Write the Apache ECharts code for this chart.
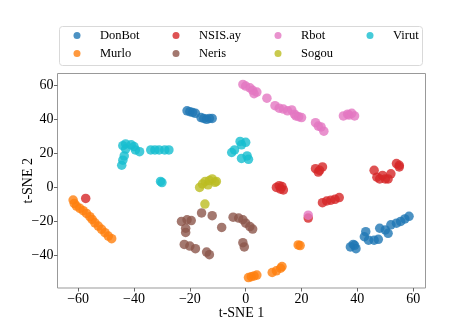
<!DOCTYPE html>
<html>
<head>
<meta charset="utf-8">
<script src="https://cdn.jsdelivr.net/npm/echarts@6/dist/echarts.min.js"></script>
<style>
  html, body { margin: 0; padding: 0; background: #fff; }
  #tsne-chart { width: 449px; height: 336px; }
</style>
</head>
<body>
<div id="tsne-chart"></div>
<script>
// class labels, in legend order (column-major, 4 columns x 2 rows)
const classNames = ['DonBot', 'Murlo', 'NSIS.ay', 'Neris', 'Rbot', 'Sogou', 'Virut']
const classColors = ['#1f77b4', '#ff7f0e', '#d62728', '#8c564b', '#e377c2', '#bcbd22', '#17becf']

// embedded points [t-SNE 1, t-SNE 2]
const donBot = [
  [-21, 45], [-20, 44.5], [-19, 44], [-18, 43.5],
  [-16, 41], [-15, 40.5], [-14, 40], [-13, 40.5], [-12, 40.5],
  [37.5, -35], [39, -34], [39.5, -36], [38.5, -33.5],
  [43, -26], [42.5, -29], [44, -31], [46, -31], [47.5, -30.5],
  [48, -24], [50, -25], [51, -27], [52, -22], [54, -21],
  [55.5, -20], [57, -18.5], [58.5, -17]
]
const murlo = [
  [-61.8, -7.4], [-61.4, -9.4], [-60.6, -11], [-59.4, -12.3], [-58.2, -13.7],
  [-57, -15.3], [-55.8, -17.2], [-55, -18.8], [-54, -20.8], [-52.8, -22.7],
  [-51.6, -24.6], [-50.4, -26.6], [-49.2, -28.6], [-48, -30.1],
  [18.8, -33.8], [19.5, -34.2],
  [1, -53], [2, -52.5], [3, -52], [4, -51.5],
  [9.5, -50], [11, -49], [12.5, -47.5], [13, -46.5]
]
const nsisAy = [
  [-57.3, -6.5],
  [11, 0], [12, 1], [13, 0.5], [12.5, -1], [13.5, -1.5],
  [27.5, -9], [29, -8], [30.5, -7.5], [32, -7], [33.5, -6],
  [25, 11], [26.5, 10], [27.5, 12], [26, 9],
  [46, 10], [47, 6], [48, 5], [49, 7], [50, 5], [51, 5], [52, 8],
  [54, 14], [55, 13], [55, 12],
  [22.4, -18]
]
const neris = [
  [-23, -20], [-21, -19], [-19.5, -19.5],
  [-21.5, -24], [-21.5, -26.5],
  [-15.8, -15], [-12, -16.6],
  [-4.5, -17.5], [-2.5, -18], [-1, -19], [0, -21], [1.5, -23], [2.5, -24.5],
  [-8.6, -23.5],
  [-22, -33.5], [-20, -34.5], [-18, -36],
  [-14, -38], [-13, -39.5],
  [-1, -32.5], [-0.5, -35]
]
const rbot = [
  [-1, 60.5], [0, 59.5], [1.5, 58.5], [2.5, 57], [4, 56], [3, 55],
  [7.6, 52.4],
  [10.5, 48], [12, 46.5], [13.5, 46], [15, 45], [16.5, 45.5], [17.5, 43],
  [18, 42], [19, 41.5], [20, 41],
  [25, 38], [26, 36], [27, 35.5], [28, 33],
  [35, 42], [36.5, 43], [37, 42.5], [38, 43.5], [39, 42],
  [22.4, -16.3]
]
const sogou = [
  [-16.5, 0], [-15.5, 2], [-14.5, 3.5], [-13, 4], [-12, 5],
  [-11, 3], [-13.5, 1.5], [-10.5, 3.5],
  [-14.6, -9.8]
]
const virut = [
  [-44, 24.5], [-43, 25.5], [-41, 25], [-40, 24], [-39.5, 22], [-38, 21], [-43, 22.5],
  [-43.5, 18.5], [-44, 16], [-44.4, 13],
  [-34, 22], [-32.5, 22], [-31, 22], [-29, 22], [-27.5, 22],
  [-30.5, 3.5], [-30, 2.8],
  [-2, 27], [0, 26.5], [-1.5, 25],
  [-4, 22], [-5, 20.5],
  [-1.5, 17], [0.5, 18.5], [1, 16.5]
]
const classPoints = [donBot, murlo, nsisAy, neris, rbot, sogou, virut]

const xTicks = [-60, -40, -20, 0, 20, 40, 60]
const yTicks = [-40, -20, 0, 20, 40, 60]

const FONT = '"Liberation Serif", "DejaVu Serif", serif'
const minusSign = (v) => String(v).replace('-', '\u2212')

// one legend per entry so the column-major layout can be placed exactly
const legendCols = [73.5, 172.5, 274.5, 366.5]
const legendRows = [29, 47]
let legends = classNames.map((name, i) => ({
  data: [name],
  left: legendCols[Math.floor(i / 2)],
  top: legendRows[i % 2],
  padding: 0,
  icon: 'circle',
  itemWidth: 7,
  itemHeight: 7,
  textStyle: { fontFamily: FONT, fontSize: 12.5, color: '#000', padding: [0, 0, 0, 14.5] },
}))

let tsneChart = echarts.init(document.getElementById('tsne-chart'))
let option = {
  animation: false,
  color: classColors,
  legend: legends,
  graphic: [
    {
      type: 'rect',
      shape: { x: 59.5, y: 26.5, width: 363, height: 39, r: 3 },
      style: { fill: 'none', stroke: '#d9d9d9', lineWidth: 1 },
      z: -1,
    },
  ],
  grid: {
    left: 57.5,
    right: 23.5,
    top: 73.5,
    bottom: 48,
    show: true,
    borderColor: '#999',
    borderWidth: 1,
  },
  xAxis: {
    type: 'value',
    min: -67.4,
    max: 64.4,
    name: 't-SNE 1',
    nameLocation: 'middle',
    nameGap: 18,
    nameMoveOverlap: false,
    nameTextStyle: { fontFamily: FONT, fontSize: 14, color: '#000', verticalAlign: 'top' },
    axisLine: { show: false, onZero: false },
    splitLine: { show: false },
    axisTick: {
      show: true,
      length: 3.5,
      inside: false,
      customValues: xTicks,
      lineStyle: { color: '#666' },
    },
    axisLabel: {
      customValues: xTicks,
      fontFamily: FONT,
      fontSize: 14,
      color: '#000',
      margin: 4,
      formatter: minusSign,
    },
  },
  yAxis: {
    type: 'value',
    min: -59.1,
    max: 66.9,
    name: 't-SNE 2',
    nameLocation: 'middle',
    nameGap: 29.5,
    nameRotate: 90,
    nameMoveOverlap: false,
    nameTextStyle: { fontFamily: FONT, fontSize: 14, color: '#000', verticalAlign: 'middle' },
    axisLine: { show: false, onZero: false },
    splitLine: { show: false },
    axisTick: {
      show: true,
      length: 3.5,
      inside: false,
      customValues: yTicks,
      lineStyle: { color: '#666' },
    },
    axisLabel: {
      customValues: yTicks,
      fontFamily: FONT,
      fontSize: 14,
      color: '#000',
      margin: 4,
      formatter: minusSign,
    },
  },
  series: classNames.map((name, i) => ({
    name: name,
    type: 'scatter',
    data: classPoints[i],
    symbolSize: 9.5,
    itemStyle: { opacity: 0.8 },
  })),
}
tsneChart.setOption(option)
</script>
</body>
</html>
